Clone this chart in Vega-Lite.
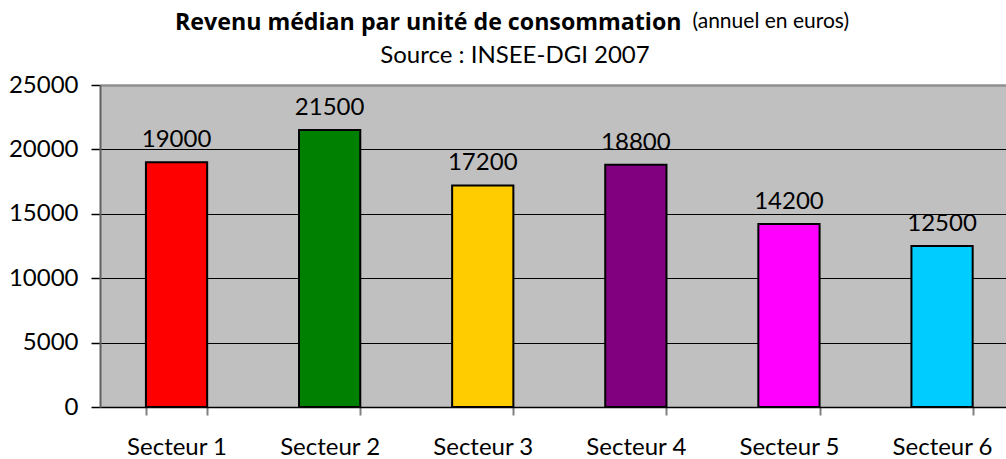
{
  "$schema": "https://vega.github.io/schema/vega-lite/v6.json",
  "autosize": "none",
  "padding": {"left": 100, "top": 85, "right": 0, "bottom": 52},
  "width": 906,
  "height": 322,
  "background": "white",
  "config": {
    "font": "Lato",
    "view": {"fill": "#C0C0C0", "stroke": null}
  },
  "title": {
    "text": "Revenu médian par unité de consommation",
    "anchor": "start",
    "frame": "group",
    "dx": 75,
    "fontSize": 23.2,
    "fontWeight": "bold",
    "font": "Open Sans",
    "color": "black",
    "baseline": "alphabetic",
    "offset": -43
  },
  "data": {
    "values": [
      {"secteur": "Secteur 1", "revenu": 19000},
      {"secteur": "Secteur 2", "revenu": 21500},
      {"secteur": "Secteur 3", "revenu": 17200},
      {"secteur": "Secteur 4", "revenu": 18800},
      {"secteur": "Secteur 5", "revenu": 14200},
      {"secteur": "Secteur 6", "revenu": 12500}
    ]
  },
  "encoding": {
    "x": {
      "field": "secteur",
      "type": "nominal",
      "sort": null,
      "scale": {"range": [0, 918.6], "paddingInner": 0.6, "paddingOuter": 0.3},
      "axis": {
        "title": "Source : INSEE-DGI 2007",
        "titleX": 414.5,
        "titleY": -345,
        "titleAlign": "center",
        "titleBaseline": "alphabetic",
        "titleFontSize": 24,
        "titleFontWeight": "normal",
        "titleColor": "black",
        "titleFont": "Lato",
        "labelAngle": 0,
        "labelFontSize": 24,
        "labelColor": "black",
        "labelFont": "Lato",
        "labelBaseline": "alphabetic",
        "labelPadding": 39,
        "tickBand": "extent",
        "tickColor": "#808080",
        "tickSize": 8,
        "tickWidth": 2,
        "domainColor": "black",
        "domainWidth": 1.5
      }
    },
    "y": {
      "field": "revenu",
      "type": "quantitative",
      "scale": {"domain": [0, 25000], "nice": false},
      "axis": {
        "values": [0, 5000, 10000, 15000, 20000, 25000],
        "format": "d",
        "title": "(annuel en euros)",
        "titleAngle": 0,
        "titleX": 592,
        "titleY": -58,
        "titleAlign": "left",
        "titleBaseline": "alphabetic",
        "titleFontSize": 21,
        "titleFontWeight": "normal",
        "titleColor": "black",
        "titleFont": "Lato",
        "labelFontSize": 24,
        "labelColor": "black",
        "labelFont": "Lato",
        "labelPadding": 13,
        "tickColor": "black",
        "tickSize": 9,
        "tickWidth": 1.5,
        "domainColor": "#606060",
        "domainWidth": 2,
        "grid": true,
        "gridColor": {"condition": {"test": "datum.value === 25000", "value": "#909090"}, "value": "black"},
        "gridWidth": {"condition": {"test": "datum.value === 25000", "value": 2.5}, "value": 1.2},
        "gridOpacity": 1
      }
    }
  },
  "layer": [
    {
      "mark": {"type": "bar", "stroke": "black", "strokeWidth": 2},
      "encoding": {
        "color": {
          "field": "secteur",
          "type": "nominal",
          "scale": {
            "domain": ["Secteur 1", "Secteur 2", "Secteur 3", "Secteur 4", "Secteur 5", "Secteur 6"],
            "range": ["#FF0000", "#008000", "#FFCC00", "#800080", "#FF00FF", "#00CCFF"]
          },
          "legend": null
        }
      }
    },
    {
      "mark": {"type": "text", "dy": -15, "baseline": "alphabetic", "fontSize": 24, "font": "Lato", "color": "black"},
      "encoding": {
        "text": {"field": "revenu", "type": "quantitative", "format": "d"}
      }
    }
  ]
}
